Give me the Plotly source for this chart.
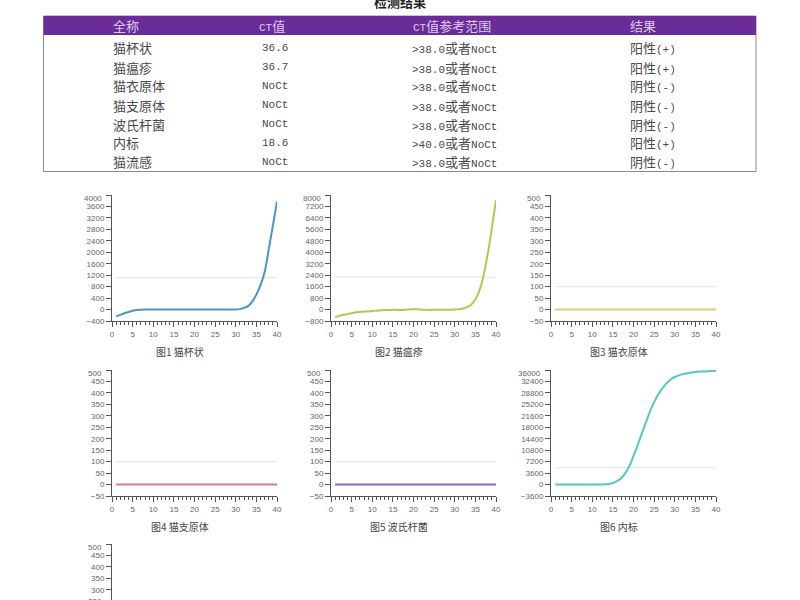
import re
import plotly.graph_objects as go

W, H = 800, 600

# table text
table_header = ['全称', 'CT值', 'CT值参考范围', '结果']
names = ['猫杯状', '猫瘟疹', '猫衣原体', '猫支原体', '波氏杆菌', '内标', '猫流感']
ct_values = ['36.6', '36.7', 'NoCt', 'NoCt', 'NoCt', '18.6', 'NoCt']
ct_ranges = ['>38.0或者NoCt', '>38.0或者NoCt', '>38.0或者NoCt', '>38.0或者NoCt',
             '>38.0或者NoCt', '>40.0或者NoCt', '>38.0或者NoCt']
results = ['阳性(+)', '阳性(+)', '阴性(-)', '阴性(-)', '阴性(-)', '阳性(+)', '阴性(-)']

# curves, one value per cycle
cycles = list(range(1, 41))
curve_1 = [-240, -185, -130, -85, -45, -15, -5, 0, 0, 0, 0, 0, 0, 0, 0, 0, 0, 0, 0, 0,
           0, 0, 0, 0, 0, 0, 0, 0, 0, 0, 15, 60, 120, 280, 520, 850, 1310, 2100, 2930, 3780]
curve_2 = [-530, -450, -370, -320, -260, -190, -170, -150, -130, -100, -80, -60, -30, -25, -20,
           -25, -25, -15, 10, 20, 15, -15, -20, -25, -20, -20, -15, -15, -10, 0,
           30, 70, 170, 360, 700, 1350, 2400, 3900, 5700, 7650]
curve_3 = [0] * 40
curve_4 = [0] * 40
curve_5 = [0] * 40
curve_6 = [0, 0, 0, 0, 0, 0, 0, 0, 0, 5, 10, 30, 80, 200, 500, 1100, 2000, 3600, 5800, 9000,
           12400, 16000, 19500, 23000, 25900, 28300, 30200, 31800, 33000, 33800,
           34300, 34700, 35000, 35200, 35400, 35500, 35500, 35600, 35700, 35800]
curve_7 = [0] * 40
curves = [curve_1, curve_2, curve_3, curve_4, curve_5, curve_6, curve_7]

thresholds = [1113, 2260, 100, 100, 100, 5300, 100]
y_ranges = [(-400, 4000), (-800, 8000), (-50, 500), (-50, 500), (-50, 500), (-3600, 36000), (-50, 500)]
y_steps = [400, 800, 50, 50, 50, 3600, 50]
captions = ['图1 猫杯状', '图2 猫瘟疹', '图3 猫衣原体', '图4 猫支原体', '图5 波氏杆菌', '图6 内标', '图7 猫流感']
colors = ['#4a94c6', '#a9cd4f', '#e6c878', '#dc7a8e', '#8d68c9', '#52c8c2', '#e09a5a']

AXIS = '#555555'
TICK_FONT = dict(family='Liberation Sans, Arial', size=8, color='#666666')
CJK_FONT = 'Noto Sans CJK SC'


def px(x):
    return x / W


def py(y):
    return 1 - y / H


def mixed(text):
    # latin is half width in the original, so the cjk runs get a larger size
    return re.sub(r'([\u4e00-\u9fff]+)',
                  lambda m: '<span style="font-size:13px;font-family:Noto Sans CJK SC">' + m.group(1) + '</span>',
                  text)


def label(x, y, text, font, xanchor='center'):
    return dict(x=px(x), y=py(y), xref='paper', yref='paper', text=text, showarrow=False,
                xanchor=xanchor, yanchor='middle', font=font)


fig = go.Figure()
annotations = []
shapes = []

# title, cut by the top edge
annotations.append(label(400, 2, '<b>检测结果</b>', dict(family=CJK_FONT, size=13, color='#222222')))

# table frame and header
shapes.append(dict(type='rect', xref='paper', yref='paper', x0=px(43.5), x1=px(756), y0=py(171.5), y1=py(16),
                   line=dict(color='#8a8a8a', width=1), fillcolor='white', layer='below'))
shapes.append(dict(type='rect', xref='paper', yref='paper', x0=px(43.5), x1=px(756), y0=py(35), y1=py(16),
                   line=dict(width=0), fillcolor='#6b2c9a', layer='below'))

col_left = [111, 257, 410, 628]
col_values = [names, ct_values, ct_ranges, results]
row_y = [48, 67, 86, 105, 124, 142.5, 161.5]
for c, head in enumerate(table_header):
    annotations.append(label(col_left[c] + (1 if c == 2 else 0), 25.5, mixed(head),
                             dict(family='Liberation Mono', size=11, color='#dccbed'), 'left'))
    for r, val in enumerate(col_values[c]):
        annotations.append(label(col_left[c] + (3 if c == 1 else 0), row_y[r], mixed(val),
                                 dict(family='Liberation Mono', size=11, color='#4a4a4a'), 'left'))

# panels: left edge of axis, top edge
panel_left = [112, 331, 551, 112, 331, 551, 112]
panel_top = [195, 195, 195, 370, 370, 370, 544]
caption_y = [351, 351, 351, 526, 526, 526, None]
caption_x = [180, 399, 619, 180, 399, 619, None]
PW, PH = 165, 126

for i in range(7):
    n = '' if i == 0 else str(i + 1)
    low, high = y_ranges[i]
    step = y_steps[i]
    left = panel_left[i]
    top = panel_top[i]
    bottom = top + PH
    ticks = list(range(low, high + 1, step))
    # last panel runs off the page, only the part above the edge is kept
    if bottom > H:
        low = high - (high - low) * (H - top) / PH
        bottom = H
        ticks = [t for t in ticks if t >= low]
        annotations.append(label(left - 8, top + 5 * 11.45, '250', TICK_FONT, 'right'))
    tick_text = [str(t).replace('-', '−') if t != high else '' for t in ticks]

    fig.add_trace(go.Scatter(x=[1, 40], y=[thresholds[i], thresholds[i]], mode='lines',
                             line=dict(color='#e8e8e8', width=1.2), xaxis='x' + n, yaxis='y' + n,
                             hoverinfo='skip', showlegend=False))
    fig.add_trace(go.Scatter(x=cycles, y=curves[i], mode='lines', line=dict(color=colors[i], width=2, shape='spline'),
                             xaxis='x' + n, yaxis='y' + n, showlegend=False))

    fig.layout['xaxis' + n] = dict(domain=[px(left), px(left + PW)], range=[0, 40], anchor='y' + n, automargin=False,
                                   tick0=0, dtick=5, ticks='outside', ticklen=5, tickcolor=AXIS, tickwidth=1,
                                   minor=dict(dtick=1, ticks='outside', ticklen=2.5, tickcolor=AXIS, tickwidth=1),
                                   showline=True, linecolor=AXIS, linewidth=1, showgrid=False, zeroline=False,
                                   tickfont=TICK_FONT, visible=caption_y[i] is not None)
    fig.layout['yaxis' + n] = dict(domain=[py(bottom), py(top)], range=[low, high], anchor='x' + n, automargin=False,
                                   tickmode='array', tickvals=ticks, ticktext=tick_text, ticks='outside', ticklen=5,
                                   tickcolor=AXIS, tickwidth=1, showline=True, linecolor=AXIS, linewidth=1,
                                   showgrid=False, zeroline=False, tickfont=TICK_FONT)
    # top label sits a little below its tick
    annotations.append(label(left - 8, top + 3, str(high), TICK_FONT, 'right'))
    if caption_y[i] is not None:
        annotations.append(label(caption_x[i], caption_y[i], captions[i],
                                 dict(family=CJK_FONT, size=10, color='#444444')))

fig.update_layout(width=W, height=H, margin=dict(l=0, r=0, t=0, b=0), paper_bgcolor='white', plot_bgcolor='white',
                  annotations=annotations, shapes=shapes, showlegend=False)

fig.write_html('out.html', config=dict(displayModeBar=False),
               post_script="document.body.style.margin='0';document.body.style.overflow='hidden';")
